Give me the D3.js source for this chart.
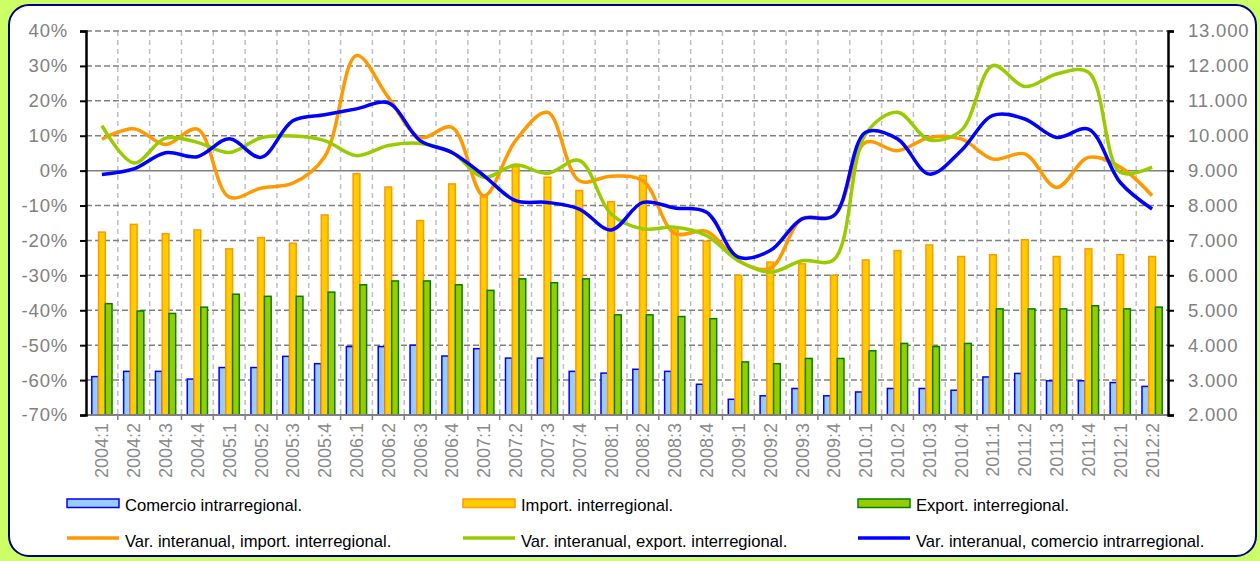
<!DOCTYPE html>
<html>
<head>
<meta charset="utf-8">
<script src="https://cdn.jsdelivr.net/npm/d3@7"></script>
<style>
  html, body { margin: 0; padding: 0; background: #ccff66; }
  svg { display: block; font-family: "Liberation Sans", Arial, sans-serif; }
</style>
</head>
<body>
<div id="chart"></div>
<script>
const quarters = ["2004:1","2004:2","2004:3","2004:4","2005:1","2005:2","2005:3","2005:4",
  "2006:1","2006:2","2006:3","2006:4","2007:1","2007:2","2007:3","2007:4",
  "2008:1","2008:2","2008:3","2008:4","2009:1","2009:2","2009:3","2009:4",
  "2010:1","2010:2","2010:3","2010:4","2011:1","2011:2","2011:3","2011:4","2012:1","2012:2"];

// bars (right axis)
const intra = [3100,3250,3250,3030,3360,3360,3680,3470,3960,3960,4000,3690,3900,3630,3630,3250,
  3200,3310,3250,2880,2450,2550,2760,2550,2660,2760,2760,2710,3090,3190,2980,2980,2930,2820];
const imports = [7240,7460,7190,7300,6760,7080,6920,7730,8910,8530,7570,8620,8250,9110,8810,8430,
  8110,8860,7300,6980,6000,6380,6330,6000,6440,6710,6870,6540,6590,7020,6540,6760,6590,6540];
const exports = [5190,4980,4910,5090,5460,5400,5400,5520,5730,5840,5840,5730,5570,5900,5790,5900,
  4870,4870,4820,4760,3520,3470,3620,3620,3840,4050,3960,4050,5040,5040,5040,5130,5040,5090];

// lines (left axis, %)
const varImport = [9,12,7.5,11.9,-7.6,-5,-3.6,4,33,21,9.5,12.4,-7.2,8.6,16.7,-2.9,
  -1.6,-2.9,-18,-17.4,-25.8,-28,-13.8,-12.9,8.1,5.7,9.5,9.1,3.3,4.8,-4.8,3.8,1,-7.2];
const varExport = [12.9,2.2,9.3,8.1,5.2,9.4,9.9,8.6,4.3,7.2,7.8,5.2,-1.9,1.6,-0.8,2.9,
  -12.4,-16.7,-16.2,-18.6,-25.8,-29.1,-25.8,-25.5,10.5,16.7,8.8,11.5,30.1,24.1,27.7,28.2,-0.5,1];
const varIntra = [-1.1,0.5,5.1,4,9.1,3.8,14.3,16,17.7,19.4,8.6,5.2,-1.4,-8.6,-9.1,-11,
  -17,-9.1,-10.7,-11.9,-24.8,-22.9,-13.8,-12.9,11,9.1,-1,5.7,15.8,14.8,9.5,11.9,-3.4,-11];

const pctTicks = [-70,-60,-50,-40,-30,-20,-10,0,10,20,30,40];
const valTicks = [2000,3000,4000,5000,6000,7000,8000,9000,10000,11000,12000,13000];

const barSeries = [
  {key: "intra", name: "Comercio intrarregional.", values: intra, fill: "#99ccff", stroke: "#0000ff"},
  {key: "imp", name: "Import. interregional.", values: imports, fill: "#ffcc00", stroke: "#ff9900"},
  {key: "exp", name: "Export. interregional.", values: exports, fill: "#99cc00", stroke: "#008000"}
];
const lineSeries = [
  {name: "Var. interanual, import. interregional.", values: varImport, color: "#ff9900"},
  {name: "Var. interanual, export. interregional.", values: varExport, color: "#99cc00"},
  {name: "Var. interanual, comercio intrarregional.", values: varIntra, color: "#0000ff"}
];

const W = 1260, H = 561;
const plotL = 86, plotR = 1168, plotT = 31, plotB = 415;

const svg = d3.select("#chart").append("svg").attr("width", W).attr("height", H);

svg.append("rect").attr("width", W).attr("height", H).attr("fill", "#ccff66");
svg.append("rect")
  .attr("x", 9).attr("y", 5).attr("width", 1247).attr("height", 551)
  .attr("rx", 20).attr("ry", 20)
  .attr("fill", "#fff").attr("stroke", "#000080").attr("stroke-width", 2);

const x = d3.scaleBand().domain(quarters).range([plotL, plotR]).paddingInner(0).paddingOuter(0);
const xSub = d3.scaleBand().domain(barSeries.map(d => d.key)).range([0, x.bandwidth()])
  .paddingInner(0).paddingOuter(0.86);
const yPct = d3.scaleLinear().domain([-70, 40]).range([plotB, plotT]);
const yVal = d3.scaleLinear().domain([2000, 13000]).range([plotB, plotT]);

// vertical grid
svg.append("g").selectAll("line")
  .data(quarters.slice(1))
  .join("line")
  .attr("x1", d => x(d)).attr("x2", d => x(d))
  .attr("y1", plotT).attr("y2", plotB)
  .attr("stroke", "#c0c0c0").attr("stroke-width", 1.5).attr("stroke-dasharray", "5,4");

// horizontal grid
svg.append("g").selectAll("line")
  .data(pctTicks.filter(t => t !== -70))
  .join("line")
  .attr("x1", plotL).attr("x2", plotR)
  .attr("y1", d => yPct(d)).attr("y2", d => yPct(d))
  .attr("stroke", "#808080").attr("stroke-width", 1.5)
  .attr("stroke-dasharray", d => d === 0 ? null : "6,3");

// bars
barSeries.forEach(s => {
  svg.append("g").selectAll("rect")
    .data(s.values)
    .join("rect")
    .attr("x", (d, i) => x(quarters[i]) + xSub(s.key))
    .attr("y", d => yVal(d))
    .attr("width", xSub.bandwidth())
    .attr("height", d => plotB - yVal(d))
    .attr("fill", s.fill).attr("stroke", s.stroke).attr("stroke-width", 1.5);
});

// bottom axis
const xAxis = svg.append("g").attr("transform", `translate(0,${plotB})`);
xAxis.append("line").attr("x1", plotL).attr("x2", plotR).attr("stroke", "#808080").attr("stroke-width", 2);
xAxis.selectAll("line.tk")
  .data(quarters.slice(1))
  .join("line").attr("class", "tk")
  .attr("x1", d => x(d)).attr("x2", d => x(d)).attr("y1", 0).attr("y2", 5)
  .attr("stroke", "#808080").attr("stroke-width", 1.5);
xAxis.selectAll("text")
  .data(quarters)
  .join("text")
  .attr("transform", d => `translate(${x(d) + x.bandwidth() / 2 + 6.5},8) rotate(-90)`)
  .attr("text-anchor", "end")
  .attr("fill", "#8a8a8a")
  .style("font-size", "18px")
  .text(d => d);

// left axis
const yAxisL = svg.append("g").attr("transform", `translate(${plotL},0)`)
  .call(d3.axisLeft(yPct).tickValues(pctTicks).tickSize(6).tickFormat(d => d + "%"));
yAxisL.select(".domain").attr("stroke", "#000").attr("stroke-width", 2.5);
yAxisL.selectAll(".tick line").attr("stroke", "#000").attr("stroke-width", 2);
yAxisL.selectAll(".tick text").attr("fill", "#808080").attr("x", -18)
  .style("font-size", "18.5px").style("letter-spacing", "0.8px")
  .style("font-family", "'Liberation Sans', Arial, sans-serif");

// right axis
const yAxisR = svg.append("g").attr("transform", `translate(${plotR},0)`)
  .call(d3.axisRight(yVal).tickValues(valTicks).tickSize(6)
    .tickFormat(d => d3.format(",")(d).replace(",", ".")));
yAxisR.select(".domain").attr("stroke", "#000").attr("stroke-width", 2.5);
yAxisR.selectAll(".tick line").attr("stroke", "#000").attr("stroke-width", 2);
yAxisR.selectAll(".tick text").attr("fill", "#808080").attr("x", 20)
  .style("font-size", "18.5px").style("letter-spacing", "0.8px")
  .style("font-family", "'Liberation Sans', Arial, sans-serif");

// lines
const line = d3.line()
  .x((d, i) => x(quarters[i]) + x.bandwidth() / 2)
  .y(d => yPct(d))
  .curve(d3.curveCatmullRom.alpha(0.5));
lineSeries.forEach(s => {
  svg.append("path")
    .datum(s.values)
    .attr("d", line)
    .attr("fill", "none")
    .attr("stroke", s.color)
    .attr("stroke-width", 3.5)
    .attr("stroke-linejoin", "round");
});

// legend
const colX = [67, 463, 858];
const legend = svg.append("g");
barSeries.forEach((s, i) => {
  const g = legend.append("g").attr("transform", `translate(${colX[i]},499)`);
  g.append("rect").attr("width", 52).attr("height", 8.5)
    .attr("fill", s.fill).attr("stroke", s.stroke).attr("stroke-width", 1.5);
  g.append("text").attr("x", 58).attr("y", 12).style("font-size", "16.6px")
    .attr("fill", "#000").text(s.name);
});
lineSeries.forEach((s, i) => {
  const g = legend.append("g").attr("transform", `translate(${colX[i]},538)`);
  g.append("line").attr("x1", 0).attr("x2", 52).attr("stroke", s.color).attr("stroke-width", 3.5);
  g.append("text").attr("x", 58).attr("y", 8.5).style("font-size", "16.6px")
    .attr("fill", "#000").text(s.name);
});
</script>
</body>
</html>
